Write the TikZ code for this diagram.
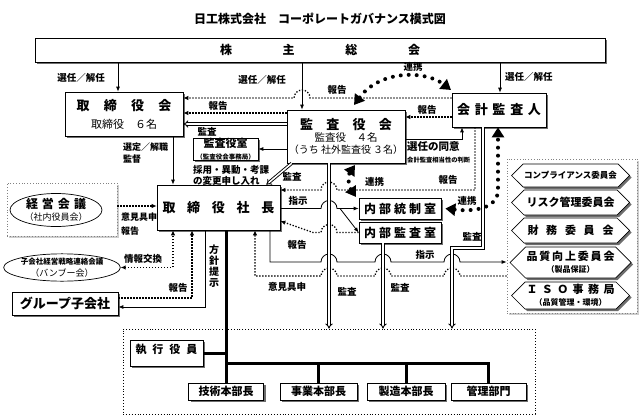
\documentclass[tikz,border=0pt]{standalone}
\usepackage{fontspec}
\setmainfont{Noto Sans CJK JP}
\usepackage{tikz}
\usetikzlibrary{arrows.meta,positioning,calc,shadows,shapes.geometric,shapes.symbols}
\definecolor{shadowGray}{RGB}{110,110,110}
\definecolor{frameGray}{RGB}{130,130,130}
\definecolor{lightShadow}{RGB}{205,205,205}

\tikzset{
  box/.style={draw, fill=white, line width=0.7pt, inner sep=1pt,
    drop shadow={shadow xshift=2pt, shadow yshift=-2pt, fill=shadowGray, opacity=1}},
  frame/.style={draw=frameGray, dotted, line width=0.8pt, fill=white,
    drop shadow={shadow xshift=2pt, shadow yshift=-2pt, fill=lightShadow, opacity=1}},
  committee/.style={signal, signal to=east and west, draw, fill=white, line width=0.7pt,
    minimum width=118pt, inner sep=1pt, align=center,
    drop shadow={shadow xshift=2pt, shadow yshift=-2pt, fill=shadowGray, opacity=1}},
  lbl/.style={font=\bfseries\fontsize{9.5}{11}\selectfont, inner sep=0pt},
  solidarrow/.style={line width=0.8pt, -{Latex[length=5pt,width=4pt]}},
  dotarrow/.style={line width=1.3pt, dash pattern=on 1.3pt off 1.7pt, -{Latex[length=5pt,width=4.5pt]}},
  dblarrow/.style={double, double distance=1.5pt, line width=0.9pt, -{Implies[length=6pt]}},
  bigdots/.style={line width=4pt, line cap=round, dash pattern=on 0pt off 8pt},
  bighead/.style={{Triangle[length=10pt,width=12pt]}-{Triangle[length=10pt,width=12pt]}},
  thickline/.style={line width=3pt}
}

\begin{document}
\begin{tikzpicture}[x=1pt,y=-1pt,font=\bfseries]
    \useasboundingbox (0,0) rectangle (640,420);

    \node[font=\bfseries\fontsize{12}{14}\selectfont] (title) at (320,19) {日工株式会社　コーポレートガバナンス模式図};

    % boxes
    \node[box, minimum width=570pt, minimum height=24pt, font=\bfseries\fontsize{12}{14}\selectfont] (kabunushi) at (320,50)
        {\makebox[200pt][s]{株\hfill 主\hfill 総\hfill 会}};
    \node[box, minimum width=118pt, minimum height=44pt, align=center] (torikai) at (124,114)
        {\fontsize{13}{15}\selectfont\makebox[95pt][s]{取\hfill 締\hfill 役\hfill 会}\\[6pt]
         \mdseries\fontsize{11}{13}\selectfont 取締役　６名};
    \node[box, minimum width=118pt, minimum height=53pt, align=center] (kansakai) at (346,136.5)
        {\fontsize{13}{16}\selectfont\makebox[92pt][s]{監\hfill 査\hfill 役\hfill 会}\\
         \mdseries\fontsize{10.5}{14}\selectfont 監査役　４名\\
         \mdseries\fontsize{10}{12}\selectfont （うち 社外監査役 ３名）};
    \node[box, minimum width=94pt, minimum height=34pt] (kaikei) at (499,110)
        {\fontsize{13}{15}\selectfont\makebox[84pt][s]{会\hfill 計\hfill 監\hfill 査\hfill 人}};
    \node[box, minimum width=65pt, minimum height=20pt, inner sep=0pt, align=center] (kansashitsu) at (225.5,149)
        {\fontsize{11}{12}\selectfont 監査役室\\ \fontsize{6.5}{7}\selectfont （監査役会事務局）};
    \node[box, minimum width=123pt, minimum height=45pt] (shacho) at (218.5,207.5)
        {\fontsize{13}{15}\selectfont\makebox[112pt][s]{取\hfill 締\hfill 役\hfill 社\hfill 長}};

    \node[frame, minimum width=110pt, minimum height=53pt] (keieiFrame) at (62,209.5) {};
    \node[draw, ellipse, fill=white, line width=0.7pt, minimum width=92pt, minimum height=33pt, inner sep=0pt, align=center] (keiei) at (56,210)
        {\fontsize{12}{13}\selectfont\makebox[60pt][s]{経\hfill 営\hfill 会\hfill 議}\\
         \mdseries\fontsize{9}{11}\selectfont （社内役員会）};
    \node[draw, ellipse, line width=0.7pt, minimum width=110pt, minimum height=27pt, inner sep=0pt, align=center] (bamboo) at (62,267.5)
        {\fontsize{7.5}{9}\selectfont 子会社経営戦略連絡会議\\ \mdseries\fontsize{9}{10}\selectfont （バンブー会）};
    \node[box, minimum width=106pt, minimum height=23pt, font=\bfseries\fontsize{13}{15}\selectfont] (group) at (65,303.5) {グループ子会社};

    \node[box, minimum width=82pt, minimum height=21pt, font=\bfseries\fontsize{12}{14}\selectfont] (toseishitsu) at (400,208.5)
        {\makebox[72pt][s]{内\hfill 部\hfill 統\hfill 制\hfill 室}};
    \node[box, minimum width=82pt, minimum height=21pt, font=\bfseries\fontsize{12}{14}\selectfont] (naibukansa) at (400,232.5)
        {\makebox[72pt][s]{内\hfill 部\hfill 監\hfill 査\hfill 室}};

    % committees
    \node[frame, minimum width=130pt, minimum height=154pt] (iinkaiFrame) at (572,236) {};
    \node[committee, minimum height=23pt, font=\bfseries\fontsize{8.5}{10}\selectfont] (comp) at (570.5,175.5) {コンプライアンス委員会};
    \node[committee, minimum height=25pt, font=\bfseries\fontsize{11}{13}\selectfont] (risk) at (570.5,202.5) {リスク管理委員会};
    \node[committee, minimum height=25pt, font=\bfseries\fontsize{11}{13}\selectfont] (zaimu) at (570.5,230.5)
        {\makebox[86pt][s]{財\hfill 務\hfill 委\hfill 員\hfill 会}};
    \node[committee, minimum height=31pt] (hinshitsu) at (570.5,262.5)
        {\fontsize{11}{13}\selectfont\makebox[88pt][s]{品\hfill 質\hfill 向\hfill 上\hfill 委\hfill 員\hfill 会}\\
         \fontsize{8}{9}\selectfont （製品保証）};
    \node[committee, minimum height=27pt] (isoKyoku) at (570.5,295.5)
        {\fontsize{11}{13}\selectfont\makebox[88pt][s]{Ｉ\hfill Ｓ\hfill Ｏ\hfill 事\hfill 務\hfill 局}\\
         \fontsize{8}{9}\selectfont （品質管理・環境）};

    % executives
    \node[draw, dotted, line width=0.9pt, minimum width=412pt, minimum height=85pt] (shikkoFrame) at (329,371.5) {};
    \node[box, minimum width=73pt, minimum height=26pt] (shikko) at (166.5,353) {};
    \node[anchor=north, font=\bfseries\fontsize{11}{13}\selectfont, inner sep=0pt] (shikkoText) at ([yshift=-4pt]shikko.north)
        {\makebox[62pt][s]{執\hfill 行\hfill 役\hfill 員}};
    \node[box, minimum width=75pt, minimum height=17pt, font=\bfseries\fontsize{11}{13}\selectfont] (gijutsu) at (226,391.5) {技術本部長};
    \node[box, minimum width=77pt, minimum height=17pt, font=\bfseries\fontsize{11}{13}\selectfont] (jigyo) at (318.5,391.5) {事業本部長};
    \node[box, minimum width=78pt, minimum height=17pt, font=\bfseries\fontsize{11}{13}\selectfont] (seizo) at (406,391.5) {製造本部長};
    \node[box, minimum width=75pt, minimum height=17pt, font=\bfseries\fontsize{11}{13}\selectfont] (kanri) at (488.5,391.5) {管理部門};

    % from the shareholders
    \draw[solidarrow] (kabunushi.south -| 118,0) -- (torikai.north -| 118,0);
    \draw[solidarrow] (kabunushi.south -| 302,0) -- (kansakai.north -| 302,0);
    \draw[solidarrow] (kabunushi.south -| 500,0) -- (kaikei.north -| 500,0);
    \node[lbl] (sennin1) at (81,78) {選任／解任};
    \node[lbl] (sennin2) at (262,80) {選任／解任};
    \node[lbl, anchor=west] (sennin3) at (505,77) {選任／解任};

    % into the board
    \draw[dotarrow] (kaikei.west |- 0,98) -- (310,98) arc[start angle=0, end angle=-180, radius=8] -- (torikai.east |- 0,98);
    \node[lbl] (hokoku1) at (337,90) {報告};
    \draw[dotarrow] (kansakai.west |- 0,113) -- (torikai.east |- 0,113);
    \node[lbl] (hokoku2) at (218,106) {報告};
    \draw[dblarrow] (kansakai.west |- 0,124) -- (torikai.east |- 0,124);
    \node[lbl] (kansa1) at (207,132) {監査};
    \draw[solidarrow] (kansakai.west |- kansashitsu.east) -- (kansashitsu.east);
    \draw[dblarrow] ([xshift=5pt]kansakai.south west) -- ([xshift=-14pt]shacho.north east);
    \node[lbl] (kansa2) at (292,177) {監査};
    \draw[solidarrow] (torikai.south -| 173,0) -- (shacho.north -| 173,0);
    \node[lbl, anchor=west, align=left, font=\bfseries\fontsize{9}{12}\selectfont] (sentei) at (123,153) {選定／解職\\監督};
    \node[lbl, anchor=west, align=left] (saiyo) at (193,175) {採用・異動・考課\\の変更申し入れ};

    % auditors
    \draw[dotarrow] (kaikei.west |- 0,117) -- (kansakai.east |- 0,117);
    \node[lbl] (hokoku3) at (427,110) {報告};
    \draw[solidarrow] (kansakai.east |- 0,139) -- (462,139) -- (kaikei.south -| 462,0);
    \node[lbl, anchor=west, font=\bfseries\fontsize{10.5}{12}\selectfont] (doi) at (407,147) {選任の同意};
    \node[lbl, anchor=west, font=\bfseries\fontsize{6.3}{8}\selectfont] (sotosei) at (407,160) {会計監査相当性の判断};
    \draw[dotarrow] (kaikei.south -| 475,0) -- (475,190) -- (337,190) arc[start angle=0, end angle=-180, radius=8] -- (shacho.east |- 0,190);
    \node[lbl] (hokoku6) at (448,180) {報告};

    % 連携
    \draw[bigdots, bighead] (354,105) .. controls (380,70) and (425,70) .. (451,90);
    \node[lbl] (renkei1) at (413,67) {連携};
    \draw[bigdots, bighead] (356,197) .. controls (348,185) and (348,175) .. (355,165);
    \node[lbl, anchor=west] (renkei2) at (365,182) {連携};
    \draw[bigdots, bighead] ([xshift=4pt]toseishitsu.east) .. controls (475,212) and (498,208) .. (498,190) -- (kaikei.south -| 498,0);
    \node[lbl] (renkei3) at (467,201) {連携};

    % president and the left side
    \draw[dotarrow] (keieiFrame.east |- 0,206) -- (shacho.west |- 0,206);
    \node[lbl, anchor=west, align=left, font=\bfseries\fontsize{9}{14}\selectfont] (iken1) at (121,224) {意見具申\\報告};
    \draw[dotarrow, {Latex[length=5pt,width=4.5pt]}-{Latex[length=5pt,width=4.5pt]}] (bamboo.east) -- (bamboo.east -| 173,0) -- (shacho.south -| 173,0);
    \node[lbl] (joho) at (143,259) {情報交換};
    \draw[dotarrow] (group.east |- 0,298) -- (192,298) -- (shacho.south -| 192,0);
    \node[lbl] (hokoku4) at (178,288) {報告};
    \draw[solidarrow] (shacho.south -| 205,0) -- (205,307) -- (group.east |- 0,307);
    \node[lbl, align=center, font=\bfseries\fontsize{10}{11}\selectfont] (hoshin) at (214,266) {方\\針\\提\\示};

    % internal control and audit
    \coordinate (shijiFork) at (340,208.5);
    \draw[solidarrow] (shacho.east |- toseishitsu.west) -- (321,208.5) arc[start angle=180, end angle=360, radius=8] -- (shijiFork) -- (toseishitsu.west);
    \draw[solidarrow] (shijiFork) -- (naibukansa.west);
    \node[lbl] (shiji1) at (298,201) {指示};
    \draw[dotarrow] (naibukansa.west) -- (337,232.5) arc[start angle=0, end angle=-180, radius=8] -- (313,232.5) -- (shacho.east |- 0,221);
    \node[lbl] (hokoku5) at (297,245) {報告};

    % committees
    \draw[solidarrow] (shacho.south -| 270,0) -- (270,262) -- (321,262)
        arc[start angle=180, end angle=360, radius=8] -- (375,262)
        arc[start angle=180, end angle=360, radius=8] -- (444,262)
        arc[start angle=180, end angle=360, radius=8] -- (iinkaiFrame.west |- 0,262);
    \node[lbl] (shiji2) at (425,255) {指示};
    \draw[dotarrow] (iinkaiFrame.west |- 0,276) -- (460,276)
        arc[start angle=0, end angle=-180, radius=8] -- (391,276)
        arc[start angle=0, end angle=-180, radius=8] -- (337,276)
        arc[start angle=0, end angle=-180, radius=8] -- (255,276) -- (shacho.south -| 255,0);
    \node[lbl] (iken2) at (287,287) {意見具申};

    % audit of the executives
    \draw[dblarrow] (kansakai.south -| 329,0) -- (shikkoFrame.north -| 329,0);
    \draw[dblarrow] (naibukansa.south -| 383,0) -- (shikkoFrame.north -| 383,0);
    \draw[dblarrow] (kaikei.south -| 483,0) -- (483,248) -- (452,248) -- (shikkoFrame.north -| 452,0);
    \node[lbl] (kansa3) at (347,292) {監査};
    \node[lbl] (kansa4) at (400,288) {監査};
    \node[lbl] (kansa5) at (472,237) {監査};

    % executive lines
    \draw[thickline] (shacho.south -| gijutsu.north) -- (gijutsu.north);
    \draw[thickline] (shikko.east) -- (shikko.east -| gijutsu.north);
    \draw[thickline] (gijutsu.north |- 0,363) -- (kanri.north |- 0,363) -- (kanri.north);
    \draw[thickline] (jigyo.north |- 0,363) -- (jigyo.north);
    \draw[thickline] (seizo.north |- 0,363) -- (seizo.north);
\end{tikzpicture}
\end{document}
